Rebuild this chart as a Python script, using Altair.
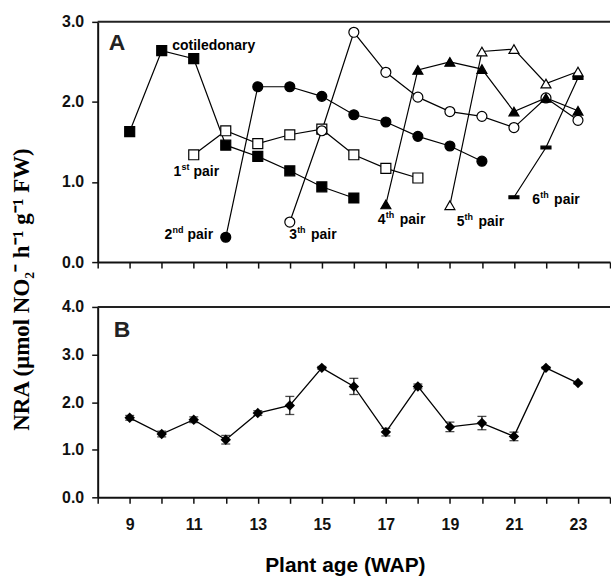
import altair as alt
import pandas as pd

# ---------------- Panel A data ----------------
series_names = ["cotiledonary", "1st", "2nd", "3th", "4th", "5th", "6th"]
cot_x = [9, 10, 11, 12, 13, 14, 15, 16]
cot_y = [1.63, 2.64, 2.54, 1.46, 1.32, 1.14, 0.94, 0.80]
cot_e = [0.06, 0.0, 0.0, 0.0, 0.0, 0.06, 0.0, 0.0]
p1_x = [11, 12, 13, 14, 15, 16, 17, 18]
p1_y = [1.34, 1.64, 1.48, 1.59, 1.66, 1.34, 1.17, 1.05]
p2_x = [12, 13, 14, 15, 16, 17, 18, 19, 20]
p2_y = [0.31, 2.19, 2.19, 2.07, 1.84, 1.75, 1.57, 1.45, 1.26]
p3_x = [14, 15, 16, 17, 18, 19, 20, 21, 22, 23]
p3_y = [0.50, 1.64, 2.87, 2.37, 2.06, 1.88, 1.82, 1.68, 2.05, 1.77]
p4_x = [17, 18, 19, 20, 21, 22, 23]
p4_y = [0.72, 2.40, 2.50, 2.41, 1.88, 2.05, 1.89]
p5_x = [19, 20, 21, 22, 23]
p5_y = [0.71, 2.63, 2.66, 2.23, 2.38]
p6_x = [21, 22, 23]
p6_y = [0.81, 1.43, 2.30]

# label annotations for panel A
lab_num = ["1", "2", "3", "4", "5", "6"]
lab_sup = ["st", "nd", "th", "th", "th", "th"]
lab_x = [10.37, 10.09, 13.98, 16.75, 19.21, 21.57]
lab_y = [1.12, 0.34, 0.34, 0.52, 0.50, 0.77]
cot_label = "cotiledonary"
cot_label_x = 10.33
cot_label_y = 2.70

# ---------------- Panel B data ----------------
b_x = [9, 10, 11, 12, 13, 14, 15, 16, 17, 18, 19, 20, 21, 22, 23]
b_y = [1.67, 1.33, 1.63, 1.21, 1.77, 1.93, 2.72, 2.33, 1.37, 2.33, 1.48, 1.56, 1.28, 2.72, 2.40]
b_e = [0.05, 0.06, 0.06, 0.09, 0.05, 0.19, 0.03, 0.17, 0.08, 0.05, 0.10, 0.14, 0.09, 0.02, 0.02]

x_ticks = list(range(8, 25))

# ---------------- build tables ----------------
rows = []
for name, xs, ys in [
    ("cotiledonary", cot_x, cot_y), ("1st", p1_x, p1_y), ("2nd", p2_x, p2_y),
    ("3th", p3_x, p3_y), ("4th", p4_x, p4_y), ("5th", p5_x, p5_y), ("6th", p6_x, p6_y)]:
    for xv, yv in zip(xs, ys):
        rows.append({"series": name, "week": xv, "nra": yv})
dfA = pd.DataFrame(rows)
dfAerr = pd.DataFrame({"week": cot_x, "lo": [y - e for y, e in zip(cot_y, cot_e)],
                       "hi": [y + e for y, e in zip(cot_y, cot_e)]})
dfAerr = dfAerr[[e > 0 for e in cot_e]]

pair_dx = {"st": 20, "nd": 23, "th": 22}
dfLab = pd.DataFrame({"num": lab_num, "sup": lab_sup, "week": lab_x, "nra": lab_y,
                      "pair": ["pair"] * len(lab_num)})
dfLab["pdx"] = [pair_dx[s] for s in lab_sup]
dfCot = pd.DataFrame({"txt": [cot_label], "week": [cot_label_x], "nra": [cot_label_y]})

dfB = pd.DataFrame({"week": b_x, "nra": b_y,
                    "lo": [y - e for y, e in zip(b_y, b_e)],
                    "hi": [y + e for y, e in zip(b_y, b_e)]})

W = 514
HA = 241
HB = 191
LABFONT = "Liberation Sans"

xscale = alt.Scale(domain=[8, 24], nice=False, zero=False)

shapes = ["square", "square", "circle", "circle", "triangle-up", "triangle-up",
          "M-1,-0.28L1,-0.28L1,0.28L-1,0.28Z"]
fills = ["black", "white", "black", "white", "black", "white", "black"]
sizes = [100, 100, 90, 90, 85, 85, 70]

xA = alt.X("week:Q", scale=xscale,
           axis=alt.Axis(values=x_ticks, labels=False, title=None, grid=False, orient="bottom"))
yA = alt.Y("nra:Q", scale=alt.Scale(domain=[0, 3], nice=False),
           axis=alt.Axis(values=[0, 1, 2, 3], format=".1f", grid=False,
                         title="NRA (µmol NO₂⁻ h⁻¹ g⁻¹ FW)",
                         titleFont="Liberation Serif", titleFontSize=23,
                         titleFontWeight="bold", titleColor="black",
                         titleAngle=-90, titleAlign="center",
                         titleBaseline="bottom", titleX=-64, titleY=268))

linesA = alt.Chart(dfA).mark_line(color="black", strokeWidth=1.2).encode(
    x=xA, y=yA, detail="series:N")
errA_rule = alt.Chart(dfAerr).mark_rule(color="black", strokeWidth=1).encode(
    x=xA, y="lo:Q", y2="hi:Q")
pointsA = alt.Chart(dfA).mark_point(filled=True, stroke="black", strokeWidth=1.2,
                                    opacity=1).encode(
    x=xA, y="nra:Q",
    shape=alt.Shape("series:N", scale=alt.Scale(domain=series_names, range=shapes), legend=None),
    fill=alt.Fill("series:N", scale=alt.Scale(domain=series_names, range=fills), legend=None),
    size=alt.Size("series:N", scale=alt.Scale(domain=series_names, range=sizes), legend=None),
)
cotText = alt.Chart(dfCot).mark_text(font=LABFONT, fontWeight="bold", fontSize=14,
                                      align="left", baseline="middle", color="black").encode(
    x=xA, y="nra:Q", text="txt:N")
numText = alt.Chart(dfLab).mark_text(font=LABFONT, fontWeight="bold", fontSize=14,
                                      align="left", baseline="middle", color="black").encode(
    x=xA, y="nra:Q", text="num:N")
supText = alt.Chart(dfLab).mark_text(font=LABFONT, fontWeight="bold", fontSize=9,
                                      align="left", baseline="middle", color="black",
                                      dx=8, dy=-5).encode(
    x=xA, y="nra:Q", text="sup:N")
pairParts = []
for dxv in sorted(set(dfLab["pdx"])):
    pairParts.append(
        alt.Chart(dfLab[dfLab["pdx"] == dxv]).mark_text(
            font=LABFONT, fontWeight="bold", fontSize=14, align="left",
            baseline="middle", color="black", dx=dxv).encode(
            x=xA, y="nra:Q", text="pair:N"))
frameA = alt.Chart(dfCot).mark_rule(color="#222", strokeWidth=2).encode(
    x=alt.value(0), x2=alt.value(W), y=alt.value(0))
letterA = alt.Chart(dfCot).mark_text(font=LABFONT, fontWeight="bold", fontSize=23,
                                      align="left", baseline="alphabetic", color="#222").encode(
    x=alt.value(11), y=alt.value(28), text=alt.value("A"))

panelA = alt.layer(linesA, errA_rule, pointsA, cotText, numText, supText, *pairParts,
                   frameA, letterA).properties(width=W, height=HA)

# ---------- Panel B ----------
xB = alt.X("week:Q", scale=xscale,
           axis=alt.Axis(values=x_ticks, grid=False, orient="bottom",
                         labelExpr="datum.value % 2 == 1 ? datum.label : ''",
                         title="Plant age (WAP)", titleFont=LABFONT, titleFontSize=21,
                         titleFontWeight="bold", titleColor="black",
                         titleBaseline="alphabetic", titleX=248, titleY=74))
yB = alt.Y("nra:Q", scale=alt.Scale(domain=[0, 4], nice=False),
           axis=alt.Axis(values=[0, 1, 2, 3, 4], format=".1f", grid=False, title=None))

lineB = alt.Chart(dfB).mark_line(color="black", strokeWidth=1.3).encode(x=xB, y=yB)
errB = alt.Chart(dfB).mark_rule(color="black", strokeWidth=1.2).encode(
    x=xB, y="lo:Q", y2="hi:Q")
capLo = alt.Chart(dfB).mark_tick(color="black", orient="horizontal", size=9,
                                 thickness=1.3).encode(x=xB, y="lo:Q")
capHi = alt.Chart(dfB).mark_tick(color="black", orient="horizontal", size=9,
                                 thickness=1.3).encode(x=xB, y="hi:Q")
ptsB = alt.Chart(dfB).mark_point(shape="diamond", filled=True, color="black",
                                 size=110, opacity=1).encode(x=xB, y="nra:Q")
frameB = alt.Chart(dfCot).mark_rule(color="#222", strokeWidth=2).encode(
    x=alt.value(0), x2=alt.value(W), y=alt.value(0))
letterB = alt.Chart(dfCot).mark_text(font=LABFONT, fontWeight="bold", fontSize=23,
                                      align="left", baseline="alphabetic", color="#222").encode(
    x=alt.value(16), y=alt.value(30), text=alt.value("B"))

panelB = alt.layer(lineB, errB, capLo, capHi, ptsB, frameB, letterB).properties(
    width=W, height=HB)

chart = alt.vconcat(panelA, panelB, spacing=45, bounds="flush").properties(
    padding={"left": 11, "top": 13, "right": 0, "bottom": 0}
).configure_view(stroke=None).configure_axis(
    domainColor="#111", domainWidth=2, tickColor="#111", tickWidth=1.5, tickSize=6,
    labelFont=LABFONT, labelFontWeight="bold", labelFontSize=16, labelColor="#111",
    labelPadding=8
).configure_axisX(labelPadding=13)

chart.save("out.html", embed_options={"renderer": "svg", "actions": False})
